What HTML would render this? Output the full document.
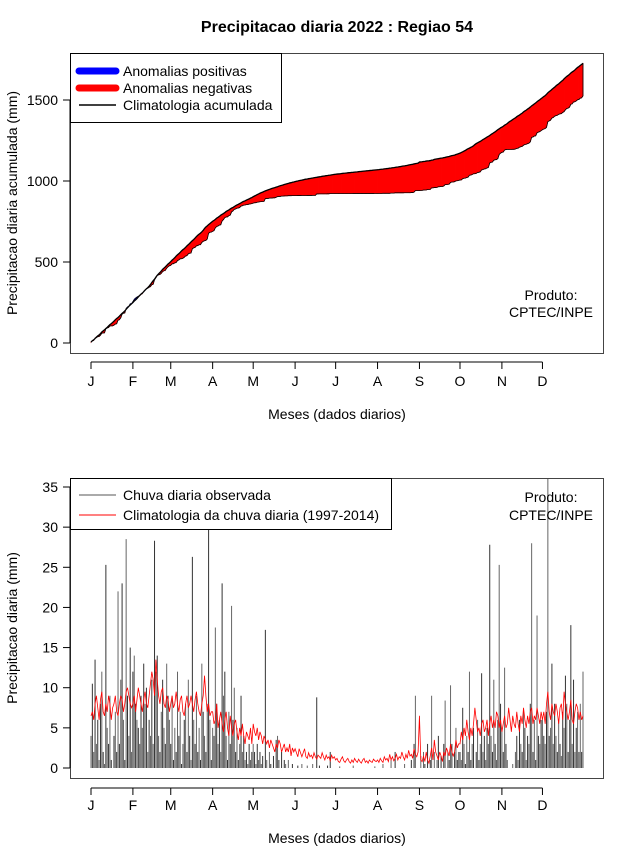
<!DOCTYPE html>
<html><head><meta charset="utf-8"><style>
body{margin:0;background:#fff;}
svg{display:block;font-family:"Liberation Sans",Arial,sans-serif;}
</style></head><body>
<svg id="c" width="640" height="850" viewBox="0 0 640 850" xmlns="http://www.w3.org/2000/svg">
<text x="337" y="32" text-anchor="middle" font-size="16" font-weight="bold">Precipitacao diaria 2022 : Regiao 54</text>
<g id="topPanel"></g>
<g id="botPanel"></g>
</svg>
<script>
const monthLabels=["J","F","M","A","M","J","J","A","S","O","N","D"];
const monthStartDays=[1,32,60,91,121,152,182,213,244,274,305,335];
const topTicks=[0,500,1000,1500];
const botTicks=[0,5,10,15,20,25,30,35];
const observed=[
4,10.5,2,13.5,3,6,1,8,12,2,0.5,25.3,5,3,9,1,0,4,7,2,22,3,11,23,6,1,28.5,9,4,15,2,
12,14,8,6,5,3,9,5,13,8,10,2,6,4,11,3,28.3,12,14,4,2,7,11,5,3,13,9,6,
3,9,1,5,2,12,4,7,0.5,3,6,8,2,11,4,1,26.3,6,3,9,2,5,1,13,7,4,2,8,36,6,1,
5,4,17.5,8,3,6,2,23,9,12,4,1,7,3,20.2,6,10,2,5,1,3,9,2,4,1,2,0.5,3,1,2,
3,2,0.5,3,1,2,0.5,1.5,0,17.2,1,0,2,0.5,0,1.5,0,3.5,4,1,0,2,0,1,0.5,0,1,0,0,0.5,0,
0,0,0.3,0,0,0.5,0,0,0,0.3,0,0,0,0.5,0,0,8.8,0,0.3,0,0,0,0,0,0.3,0,2,0,0,0,
0,0,0,0.2,0,0,0,0,0,0,0,0,0,0.3,0,0,0,0,0,0,0,0,0,0,0,0,0,0,0,0.2,0,
0,0,0,0,0.5,0,0,0,0,0,1,0,0,2,0,0,0,0,0,0,0.5,0,0,0,0,1,0,3,9,0,0,
0,1.5,0,2,0.5,0,3,0,1,9,0,2,0,1,4,0,1.5,0,3,8.4,0,2,1,10.3,3,0,2,5,1,2,
2,1,7.5,3,0.5,4,2,12,1,3,5,0,2,6,1,3,11.8,2,4,1,5,3,27.8,4,2,11,3,1,6,25.3,8,
5,2,12.5,3,1,0,0,0,0.5,0,2,4,1,6,3,2,7,5,1,4,3,8,28,2,6,1,19,4,3,6,
6,4,3,7,36,4,5,13,3,8,4,2,6,3,1.5,7,5,11.5,8,2,6,17.8,3,11,2,5,7,2,8,2,12];
const climatology=[
6.5,7,6,8,9,7.5,6,8.5,9.5,7,6.5,8,7,9,8,6,7.5,8,9,7,6.5,8,9,8.5,7,8,9.5,10,9,8,7.5,
8,9,7,8.5,10,9,8,7,8.5,9.5,8,7.5,9,10.5,12,11,9,13.5,11,9,8,9.5,10,8,7.5,9,8.5,7,
8,9,7.5,8,9.5,8,7,8.5,9,7,6.5,8,9,7.5,8,9,8,7,8.5,9.5,8,7,6.5,8,9,11.5,9,7,8,6.5,7,
7,5.5,6,8,5,6,7,5.5,4.5,6,7,5,4,6.5,5,4,5.5,6,4.5,3.5,5,4,5.5,4,3,4.5,4,3.5,5,3,
5.5,4.5,4,5,3.5,4.5,4,3,4,3.5,3,3.5,2.5,3.5,3,2.5,2,3,2.5,3.5,3,2,2.5,3,2,2.5,2,3,1.5,2.5,2,
2.4,1.9,1.4,2.4,1.9,1.4,1.9,2.4,1.4,1.2,1.9,1.4,1.6,1.2,1.9,1.4,1.1,1.6,1.4,1.2,1.9,1.4,1,1.6,1.2,1.4,0.9,1.6,1.2,1.4,
1,1.2,0.8,0.7,1.1,1.4,0.9,0.7,1,1.2,0.8,0.6,1,0.7,1.2,0.9,0.7,1.1,0.8,0.6,1,1.2,0.7,0.9,0.6,1,0.8,0.7,1.1,0.9,0.8,
1,0.7,1.2,0.9,0.7,1.4,1,1.2,0.8,1.7,1,1.4,0.9,1.2,1.7,1,1.4,1.2,2,1.4,1,1.7,1.2,2.2,1.5,1.7,1.2,2.4,1.7,1.4,2,
6.5,1,0.8,1.5,0.8,2,1,0.6,1.5,2.5,1,3.5,2,1.5,1,2,1.5,0.8,2,1.5,2.5,2,1.5,3,2,1.5,2,3.5,2.5,3,
3,4.5,3.5,5,4,6,4.5,3.5,5,4,5.5,7.5,6,4.5,5,4,5.5,6,4.5,5,6,4,5.5,6.5,5,6,5,7,6.5,5,6,
4.5,5.5,6.5,5,5.5,7.5,6,4.5,6.5,5.5,5,7,5.5,4.5,6.5,5.5,7.5,6,5,6.5,5.5,7,7.5,5.5,6.5,6,7.5,6.5,5.5,7,
6,7,5.5,8,9.5,7,6,8,7,6.5,8,7,5.5,7.5,8,6,9.5,8,7,6,7,8.5,6,5.5,7,8,7.5,6,7,6,6.5];

const NS="http://www.w3.org/2000/svg";
function mk(parent,tag,attrs,text){const e=document.createElementNS(NS,tag);for(const k in attrs)e.setAttribute(k,attrs[k]);if(text!==undefined)e.textContent=text;parent.appendChild(e);return e;}
const xDay=d=>91+(d-1)*(583-91)/364;
const yTop=v=>343-v*81/500;
const yBot=v=>768-v*281/35;
const nDays=Math.min(observed.length,climatology.length);
const cumO=[],cumC=[];let so=0,sc=0;
for(let i=0;i<nDays;i++){so+=observed[i];sc+=climatology[i];cumO.push(so);cumC.push(sc);}

// ---------- TOP PANEL ----------
const topG=document.getElementById('topPanel');
for(let i=0;i<nDays-1;i++){
  const d=i+1;
  const pts=[[xDay(d),yTop(cumC[i])],[xDay(d+1),yTop(cumC[i+1])],[xDay(d+1),yTop(cumO[i+1])],[xDay(d),yTop(cumO[i])]];
  const pos=(cumO[i]+cumO[i+1])>(cumC[i]+cumC[i+1]);
  const p=mk(topG,'polygon',{points:pts.map(q=>q.join(',')).join(' '),fill:pos?'#0000ff':'#ff0000',stroke:pos?'#0000ff':'#ff0000','stroke-width':0.6});
  
  
}
let od='';for(let i=0;i<nDays;i++)od+=(i?'L':'M')+xDay(i+1).toFixed(2)+','+yTop(cumO[i]).toFixed(2);
od+='L'+xDay(nDays)+','+yTop(cumC[nDays-1]);
const ol=mk(topG,'path',{d:od,fill:'none',stroke:'#000','stroke-width':0.8});


let cd='';for(let i=0;i<nDays;i++)cd+=(i?'L':'M')+xDay(i+1).toFixed(2)+','+yTop(cumC[i]).toFixed(2);
const cl=mk(topG,'path',{d:cd,fill:'none',stroke:'#000','stroke-width':1.3});



function frame(g,y0,y1,ticks,yf,axY,labY,ylabel,ylx,ylcy,names){
  const b=mk(g,'rect',{x:70.5,y:y0+0.5,width:533,height:y1-y0,fill:'none',stroke:'#444','stroke-width':1});
  
  
  const ya=mk(g,'g',{});
  
  
  mk(ya,'line',{x1:70,x2:70,y1:yf(ticks[0]),y2:yf(ticks[ticks.length-1]),stroke:'#000'});
  ticks.forEach(t=>{
    mk(ya,'line',{x1:63,x2:70,y1:yf(t),y2:yf(t),stroke:'#000'});
    const tl=mk(ya,'text',{x:58,y:yf(t)+5,'text-anchor':'end','font-size':14},String(t));
    
    
  });
  const xa=mk(g,'g',{});
  
  
  mk(xa,'line',{x1:xDay(monthStartDays[0]),x2:xDay(monthStartDays[11]),y1:axY,y2:axY,stroke:'#000'});
  monthStartDays.forEach((d,i)=>{
    mk(xa,'line',{x1:xDay(d),x2:xDay(d),y1:axY,y2:axY+7,stroke:'#000'});
    const tl=mk(xa,'text',{x:xDay(d),y:labY,'text-anchor':'middle','font-size':14},monthLabels[i]);
    
    
  });
  const xt=mk(g,'text',{x:337,y:labY+33,'text-anchor':'middle','font-size':14},'Meses (dados diarios)');
  
  
  const yt=mk(g,'text',{x:0,y:0,'text-anchor':'middle','font-size':14,transform:`translate(${ylx},${ylcy}) rotate(-90)`},ylabel);
  
  
}
frame(topG,53,353,topTicks,yTop,362,386,'Precipitacao diaria acumulada (mm)',17,203,'top');

function legend(g,x,y,w,h,items,name){
  const lg=mk(g,'g',{});
  
  
  mk(lg,'rect',{x:x+0.5,y:y+0.5,width:w,height:h,fill:'#fff',stroke:'#000'});
  items.forEach(it=>{
    const e=mk(lg,'g',{});
    
    
    mk(e,'line',{x1:x+9,x2:x+46,y1:it.y,y2:it.y,stroke:it.c,'stroke-width':it.w,'stroke-linecap':it.w>3?'round':'butt'});
    mk(e,'text',{x:x+53,y:it.y+5,'font-size':14},it.t);
  });
}
legend(topG,70,53,211,69,[{y:71,c:'#0000ff',w:7,t:'Anomalias positivas'},{y:88,c:'#ff0000',w:7,t:'Anomalias negativas'},{y:105,c:'#000',w:1.5,t:'Climatologia acumulada'}],'top-legend');
let t1=mk(topG,'text',{x:551,y:300,'text-anchor':'middle','font-size':14},'Produto:');


t1=mk(topG,'text',{x:551,y:317,'text-anchor':'middle','font-size':14},'CPTEC/INPE');



// ---------- BOTTOM PANEL ----------
const botG=document.getElementById('botPanel');
const clipP=mk(botG,'clipPath',{id:'bclip'});
mk(clipP,'rect',{x:70,y:478,width:533,height:300});
const bars=mk(botG,'g',{'clip-path':'url(#bclip)'});


for(let i=0;i<nDays;i++){
  const x=xDay(i+1);
  const b=mk(bars,'line',{x1:x,x2:x,y1:yBot(0),y2:yBot(observed[i]),stroke:i%2?'#333':'#666','stroke-width':1});
  
  
}
let rd='';for(let i=0;i<nDays;i++)rd+=(i?'L':'M')+xDay(i+1).toFixed(2)+','+yBot(climatology[i]).toFixed(2);
const rl=mk(botG,'path',{d:rd,fill:'none',stroke:'#ff0000','stroke-width':0.8});


frame(botG,478,778,botTicks,yBot,788,810,'Precipitacao diaria (mm)',17,628,'bottom');
legend(botG,70,478,321,51,[{y:495,c:'#555',w:1,t:'Chuva diaria observada'},{y:515,c:'#ff0000',w:1,t:'Climatologia da chuva diaria (1997-2014)'}],'bottom-legend');
t1=mk(botG,'text',{x:551,y:502,'text-anchor':'middle','font-size':14},'Produto:');


t1=mk(botG,'text',{x:551,y:520,'text-anchor':'middle','font-size':14},'CPTEC/INPE');


</script>
</body></html>
